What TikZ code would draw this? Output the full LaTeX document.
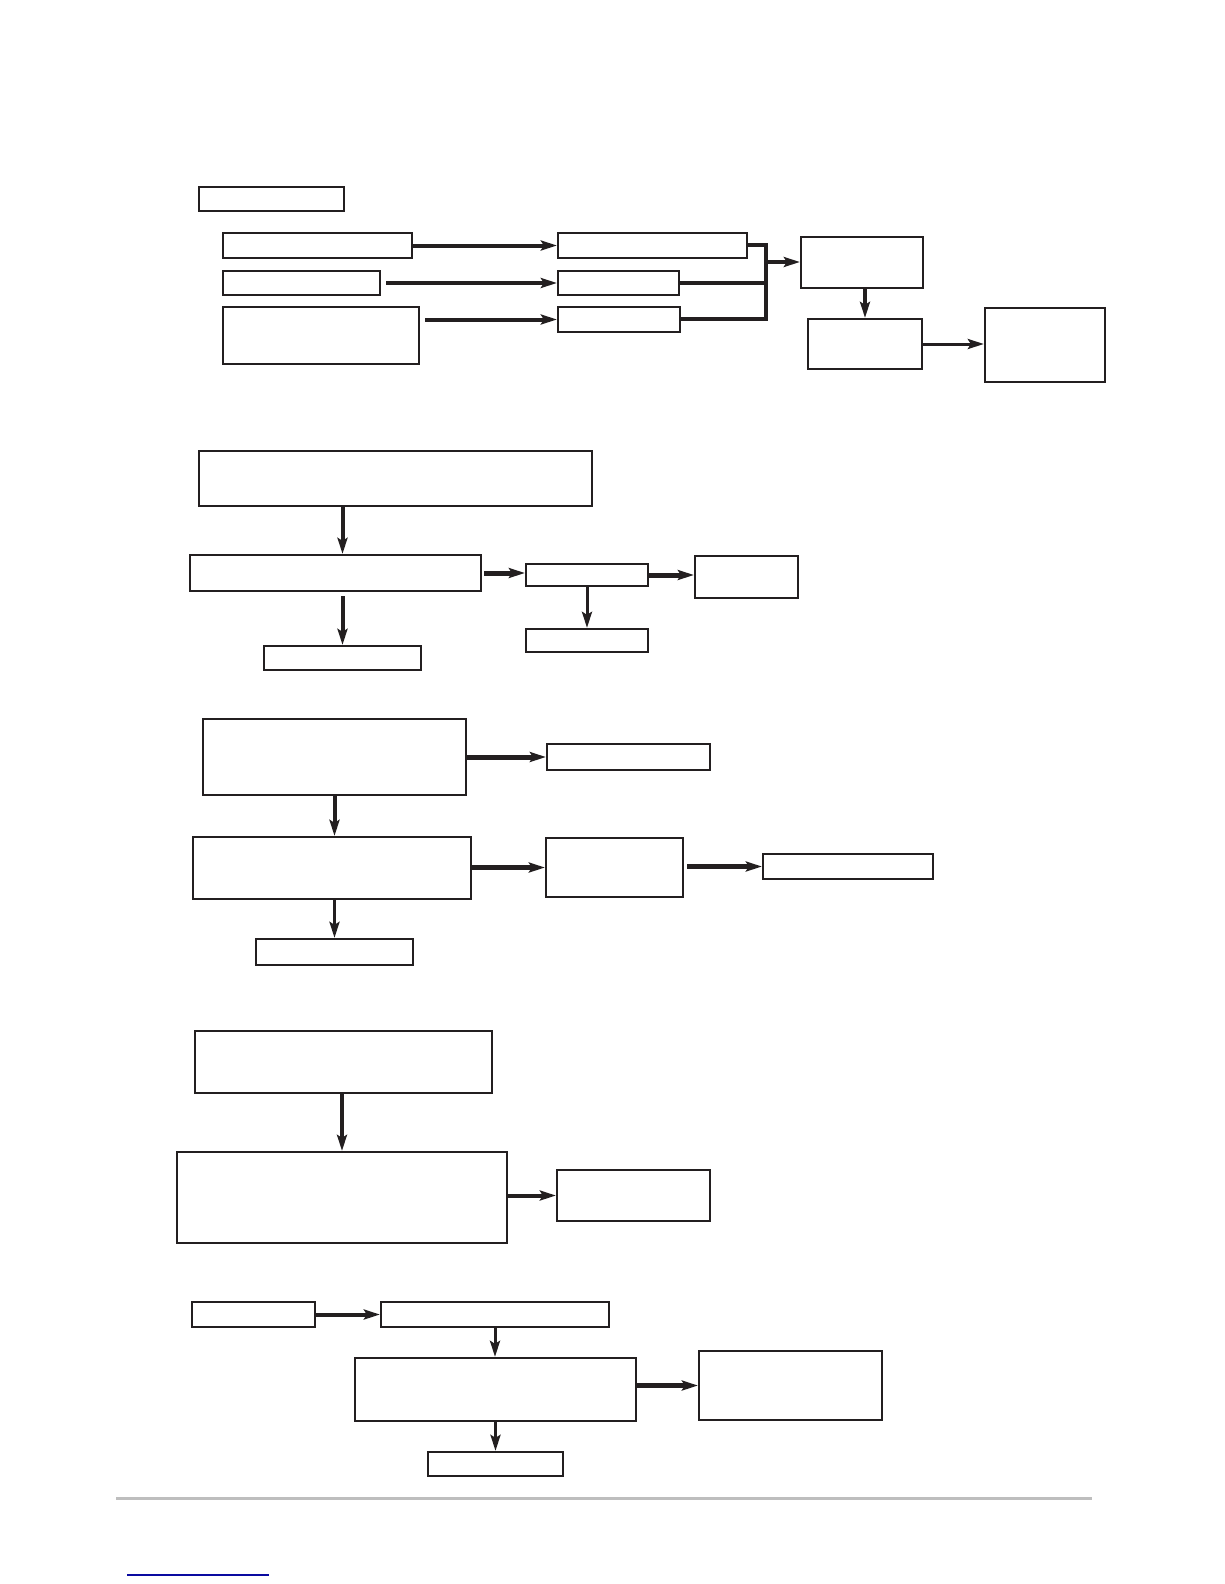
\documentclass[tikz,border=0pt]{standalone}
\usetikzlibrary{arrows.meta,fit,calc}
\definecolor{ink}{RGB}{35,31,32}
\definecolor{rulegray}{RGB}{190,190,190}
\definecolor{linkblue}{RGB}{10,10,160}
\begin{document}
\begin{tikzpicture}[x=1pt,y=-1pt,
  bx/.style={draw=ink, line width=2.3pt, inner sep=0pt},
  arr/.style={draw=ink, line width=4pt, -{Stealth[length=16pt,width=10pt,inset=3pt]}},
  thinarr/.style={arr, line width=3pt},
  thickarr/.style={arr, line width=5pt},
  busline/.style={draw=ink, line width=3.5pt}]
\useasboundingbox (0,0) rectangle (1224,1584);
\fill[white] (0,0) rectangle (1224,1584);

% ---------- section 1 ----------
\node[bx, fit={(199,187)(344,211)}] (A) {};
\node[bx, fit={(223,233)(412,258)}] (B1) {};
\node[bx, fit={(223,271)(380,295)}] (B2) {};
\node[bx, fit={(223,307)(419,364)}] (B3) {};
\node[bx, fit={(558,233)(747,258)}] (C1) {};
\node[bx, fit={(558,271)(679,295)}] (C2) {};
\node[bx, fit={(558,307)(680,332)}] (C3) {};
\node[bx, fit={(801,237)(923,288)}] (D) {};
\node[bx, fit={(808,319)(922,369)}] (E) {};
\node[bx, fit={(985,308)(1105,382)}] (F) {};

\draw[arr] (B1.east) -- (C1.west);
\draw[arr, shorten <=5pt] (B2.east) -- (C2.west);
\draw[arr, shorten <=5pt] (B3.east |- C3.west) -- (C3.west);

\coordinate (bustop) at (766,245);
\coordinate (busmid) at (766,262);
\coordinate (busbot) at (766,319);
\draw[busline] (C1.east |- bustop) -- (bustop) -- (busbot) -- (C3.east |- busbot);
\draw[busline] (C2.east) -- (C2.east -| bustop);
\draw[arr] (busmid) -- (D.west |- busmid);
\draw[arr] (D.south -| E.north) -- (E.north);
\draw[thinarr] (E.east) -- (E.east -| F.west);

% ---------- section 2 ----------
\node[bx, fit={(199,451)(592,506)}] (G) {};
\node[bx, fit={(190,555)(481,591)}] (H) {};
\node[bx, fit={(264,646)(421,670)}] (I) {};
\node[bx, fit={(526,564)(648,586)}] (J) {};
\node[bx, fit={(695,556)(798,598)}] (K) {};
\node[bx, fit={(526,629)(648,652)}] (L) {};

\draw[arr] (G.south -| I.north) -- (H.north -| I.north);
\draw[arr, shorten <=4pt] (H.south -| I.north) -- (I.north);
\draw[thickarr, shorten <=2pt] (H.east) -- (H.east -| J.west);
\draw[thickarr] (J.east) -- (J.east -| K.west);
\draw[thinarr] (J.south) -- (L.north);

% ---------- section 3 ----------
\node[bx, fit={(203,719)(466,795)}] (M) {};
\node[bx, fit={(547,744)(710,770)}] (N) {};
\node[bx, fit={(193,837)(471,899)}] (O) {};
\node[bx, fit={(546,838)(683,897)}] (P) {};
\node[bx, fit={(763,854)(933,879)}] (Q) {};
\node[bx, fit={(256,939)(413,965)}] (R) {};

\draw[thickarr] (M.east) -- (N.west);
\draw[arr] (M.south) -- (M.south |- O.north);
\draw[thickarr] (O.east |- P.west) -- (P.west);
\draw[thickarr, shorten <=3pt] (P.east |- Q.west) -- (Q.west);
\draw[thinarr] (O.south -| R.north) -- (R.north);

% ---------- section 4 ----------
\node[bx, fit={(195,1031)(492,1093)}] (S) {};
\node[bx, fit={(177,1152)(507,1243)}] (T) {};
\node[bx, fit={(557,1170)(710,1221)}] (U) {};

\draw[arr] (S.south -| T.north) -- (T.north);
\draw[arr] (T.east |- U.west) -- (U.west);

% ---------- section 5 ----------
\node[bx, fit={(192,1302)(315,1327)}] (V) {};
\node[bx, fit={(381,1302)(609,1327)}] (W) {};
\node[bx, fit={(355,1358)(636,1421)}] (X) {};
\node[bx, fit={(699,1351)(882,1420)}] (Y) {};
\node[bx, fit={(428,1452)(563,1476)}] (Z) {};

\draw[arr] (V.east) -- (W.west);
\draw[thinarr] (W.south) -- (W.south |- X.north);
\draw[thickarr] (X.east |- Y.west) -- (Y.west);
\draw[thinarr] (X.south -| Z.north) -- (Z.north);

% ---------- page furniture ----------
\draw[rulegray, line width=3pt] (116,1498) -- (1092,1498);
\draw[linkblue, line width=1.2pt] (127,1575) -- (269,1575);
\end{tikzpicture}
\end{document}
